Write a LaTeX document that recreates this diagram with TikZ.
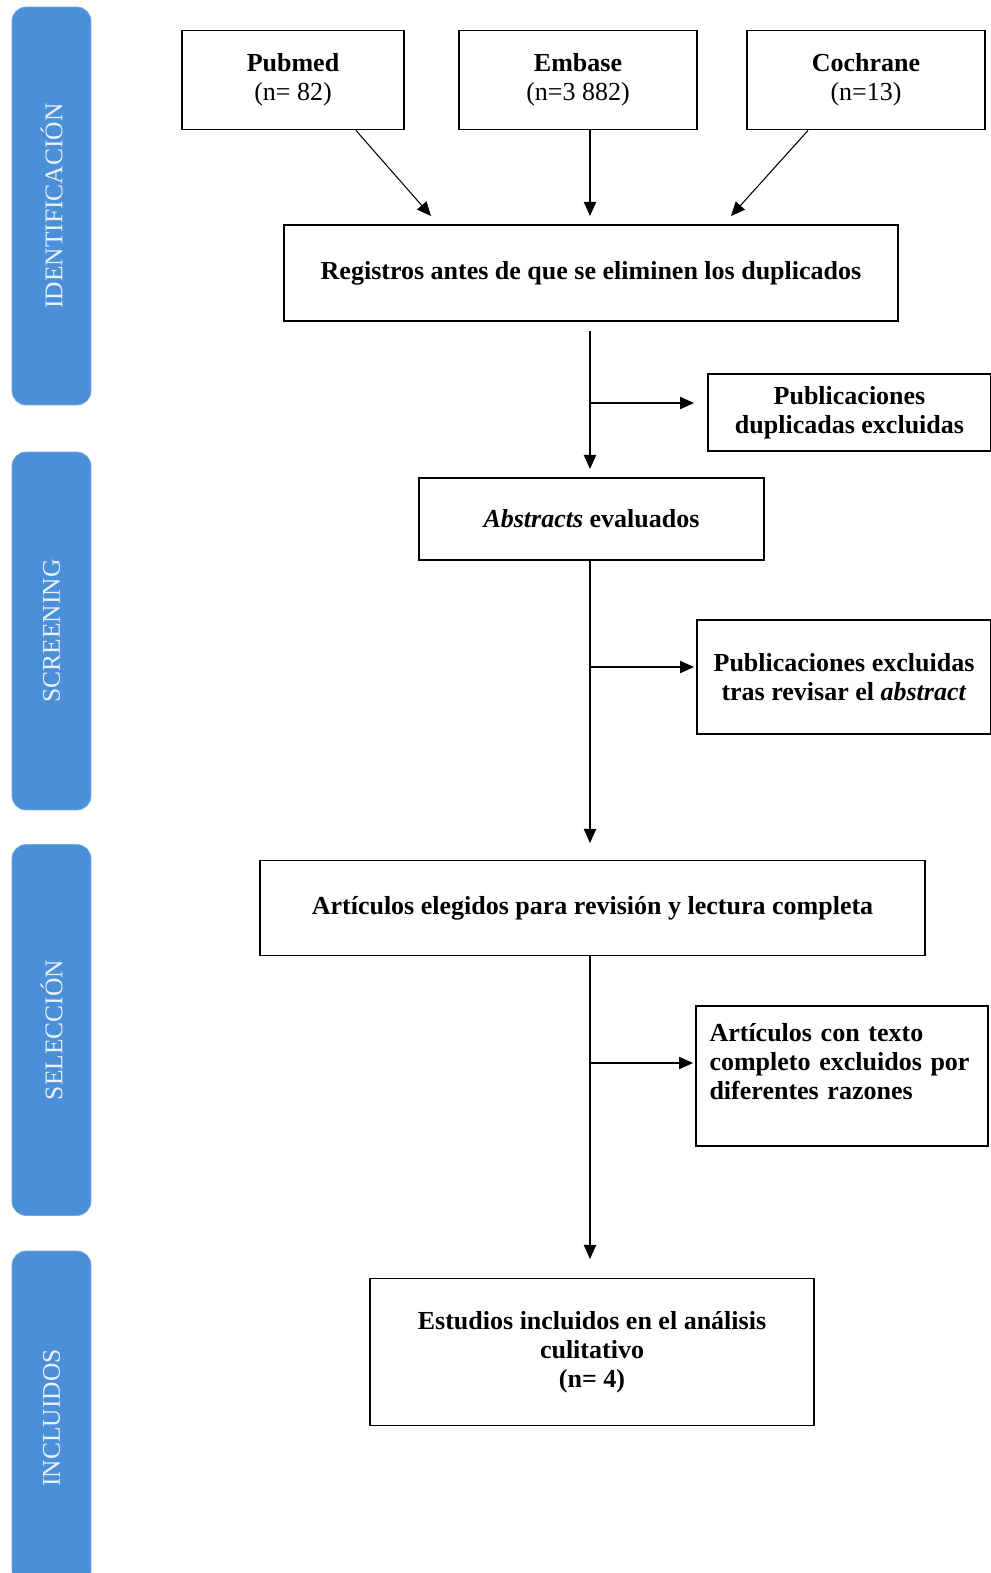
\documentclass[tikz,border=0pt]{standalone}
\usepackage{fontspec}
\setmainfont{Liberation Serif}
\usetikzlibrary{arrows.meta}
\definecolor{phaseblue}{RGB}{74,143,216}
\tikzset{
  box/.style={draw, line width=1.1pt, align=center, inner sep=2pt,
    font=\fontsize{14.8}{16.5}\selectfont\bfseries},
  phase/.style={rotate=90, fill=phaseblue, draw=phaseblue!75!white, rounded corners=8pt,
    minimum height=1.58cm, text=white!88!phaseblue, font=\fontsize{14.5}{17}\selectfont},
  arr/.style={-{Triangle[length=8pt,width=7pt]}, line width=0.6pt},
}
\begin{document}
\begin{tikzpicture}[x=0.02cm, y=-0.02cm]
        \clip (0,0) rectangle (991,1573);
        % Phases (top to bottom)
        \node (fase1) at (51.5,206)  [phase, minimum width=7.96cm] {IDENTIFICACIÓN};
        \node (fase2) at (51.5,631)  [phase, minimum width=7.16cm] {SCREENING};
        \node (fase3) at (51.5,1030) [phase, minimum width=7.42cm] {SELECCIÓN};
        \node (fase4) at (51.5,1418) [phase, minimum width=6.68cm] {INCLUIDOS};
        % Nodes (top to bottom)
        \node (pubmed)   at (293,80)   [box, minimum width=4.44cm, minimum height=1.98cm] {Pubmed\\{\mdseries (n= 82)}};
        \node (embase)   at (578,80)   [box, minimum width=4.76cm, minimum height=1.98cm] {Embase\\{\mdseries (n=3 882)}};
        \node (cochrane) at (866,80)   [box, minimum width=4.76cm, minimum height=1.98cm] {Cochrane\\{\mdseries (n=13)}};
        \node (registros) at (591,273) [box, minimum width=12.28cm, minimum height=1.92cm] {Registros antes de que se eliminen los duplicados};
        \node (duplicados) at (849.5,412.5) [box, minimum width=5.66cm, minimum height=1.54cm] {Publicaciones\\duplicadas excluidas};
        \node (abstracts) at (591.5,519) [box, minimum width=6.9cm, minimum height=1.64cm] {\textit{Abstracts} evaluados};
        \node (exabstract) at (844,677) [box, minimum width=5.88cm, minimum height=2.28cm] {Publicaciones excluidas\\tras revisar el \textit{abstract}};
        \node (elegidos) at (592.5,908) [box, minimum width=13.3cm, minimum height=1.9cm] {Artículos elegidos para revisión y lectura completa};
        \node (excluidos) at (842,1076) [box, minimum width=5.84cm, minimum height=2.8cm, text width=5.3cm, align=left] {Artículos con texto\\completo excluidos por\\diferentes razones\\ \mbox{}};
        \node (estudios) at (592,1352) [box, minimum width=8.88cm, minimum height=2.94cm] {Estudios incluidos en el análisis\\culitativo\\(n= 4)};
        % Connector ends
        \coordinate (in1) at (431,216);
        \coordinate (in2) at (590,216);
        \coordinate (in3) at (731,216);
        \coordinate (top1) at (590,331);
        \coordinate (bot1) at (590,469);
        \coordinate (bot2) at (590,843);
        \coordinate (bot3) at (590,1259);
        \coordinate (br1) at (590,403);
        \coordinate (br2) at (590,667);
        \coordinate (br3) at (590,1063);
        % Edges
        \draw[arr] ([xshift=1.26cm]pubmed.south) -- (in1);
        \draw[arr] (embase.south -| in2) -- (in2);
        \draw[arr] ([xshift=-1.16cm]cochrane.south) -- (in3);
        \draw[arr] (top1) -- (bot1);
        \draw[arr] (br1) -- ([xshift=-0.26cm]br1 -| duplicados.west);
        \draw[arr] (abstracts.south -| bot2) -- (bot2);
        \draw[arr] (br2) -- ([xshift=-0.04cm]br2 -| exabstract.west);
        \draw[arr] (elegidos.south -| bot3) -- (bot3);
        \draw[arr] (br3) -- ([xshift=-0.04cm]br3 -| excluidos.west);
\end{tikzpicture}
\end{document}
